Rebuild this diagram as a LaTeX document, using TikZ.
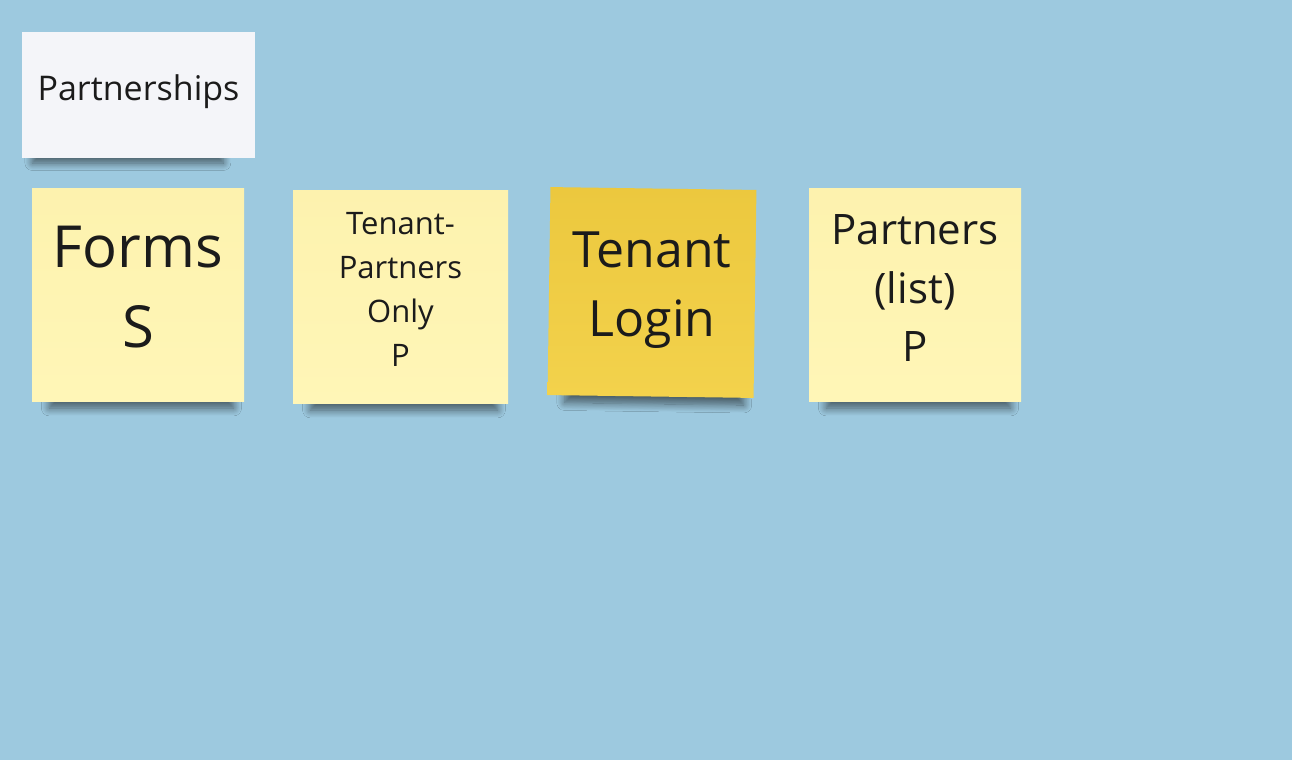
\documentclass[tikz,border=0pt]{standalone}
\usepackage{fontspec}
\setmainfont{Open Sans}
\usepackage{tikz}
\usetikzlibrary{shadows.blur}
\definecolor{board}{HTML}{9DC9DF}
\definecolor{paleyellow}{HTML}{FFF6B7}
\definecolor{paletop}{HTML}{FDF2AE}
\definecolor{goldyellow}{HTML}{F3D24C}
\definecolor{goldtop}{HTML}{ECC83E}
\definecolor{cardwhite}{HTML}{F4F5F9}
\definecolor{ink}{HTML}{1B1B1B}
\tikzset{note/.style={rectangle,inner sep=0pt,draw=none,
    blur shadow={shadow xshift=4pt,shadow yshift=-24pt,shadow scale=0.87,shadow opacity=55,shadow blur radius=9pt,shadow blur steps=12}}}
\tikzset{notetext/.style={text=ink,align=center,inner sep=0pt}}
\tikzset{card/.style={rectangle,inner sep=0pt,draw=none,fill=cardwhite,minimum width=233pt,minimum height=126pt,
    blur shadow={shadow xshift=-13pt,shadow yshift=-20pt,shadow scale=0.82,shadow opacity=55,shadow blur radius=9pt,shadow blur steps=12}}}

\begin{document}
\begin{tikzpicture}[x=1pt,y=-1pt]
\fill[board] (0,0) rectangle (1292,760);
\useasboundingbox (0,0) rectangle (1292,760);

\node (title) at (138.5,95) [card] {};
\node (title-t) at (138.5,92) [notetext,font=\fontsize{34}{40}\selectfont] {Partnerships};

\foreach \name/\x/\y/\w/\h/\rot/\top/\col in {forms/138/294.5/212/213/0/paletop/paleyellow,
	tenantpartners/400.5/296.5/215/213/0/paletop/paleyellow,
	tenantlogin/652/292.5/206/208/-0.8/goldtop/goldyellow,
	partners/915/294.5/212/213/0/paletop/paleyellow}
{
	\node (\name) at (\x,\y) [note,top color=\top,bottom color=\col,minimum width=\w pt,minimum height=\h pt,rotate=\rot] {};
}

\node (forms-t) at (138,287) [notetext,font=\fontsize{58}{80}\selectfont] {Forms\\S};
\node (tenantpartners-t) at (400.5,289) [notetext,font=\fontsize{31}{44}\selectfont] {Tenant-\\Partners\\Only\\P};
\node (tenantlogin-t) at (652,290.5) [notetext,font=\fontsize{50}{69}\selectfont] {Tenant\\Login};
\node (partners-t) at (915,288.5) [notetext,font=\fontsize{42}{58.5}\selectfont] {Partners\\(list)\\P};
\end{tikzpicture}
\end{document}
